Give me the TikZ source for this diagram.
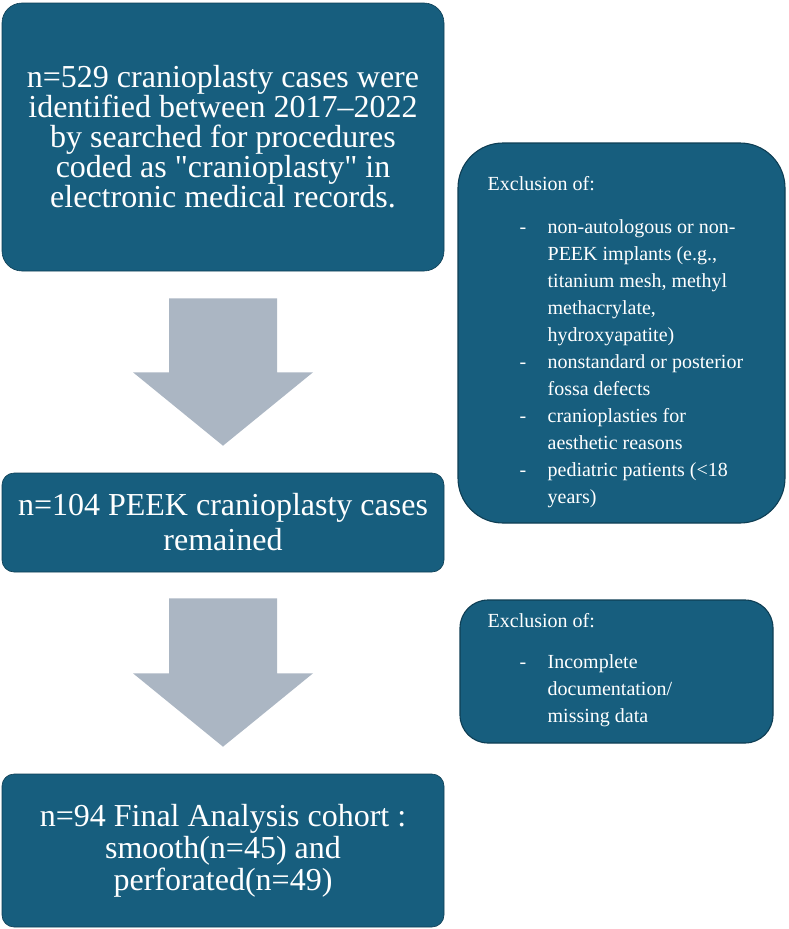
\documentclass[tikz,border=0pt]{standalone}
\usepackage{fontspec}
\setmainfont{Liberation Serif}[Ligatures=TeXOff]
\usetikzlibrary{calc}
\definecolor{flowblue}{RGB}{23,94,126}
\definecolor{flowedge}{RGB}{14,62,84}
\definecolor{flowgray}{RGB}{171,182,195}

\newcommand{\dashitem}{\makebox[60pt][l]{\hspace*{32pt}-}}
\newcommand{\itemcont}{\hspace*{60pt}}

\begin{document}
\begin{tikzpicture}[x=1pt, y=-1pt,
  stage/.style={draw=flowedge, line width=0.6pt, fill=flowblue, text=white, rounded corners=12pt, minimum width=442pt, align=center, inner sep=0pt, font=\fontsize{32}{35}\selectfont},
  exclbox/.style={draw=flowedge, line width=1.1pt, fill=flowblue, inner sep=0pt},
  excltext/.style={text=white, align=left, inner sep=0pt, anchor=north west, font=\fontsize{20}{27}\selectfont},
  bigarrow/.style={fill=flowgray},
]
  \useasboundingbox (0,0) rectangle (788,929);

  % Main flow
  \node[stage, minimum height=268pt, rounded corners=20pt, font=\fontsize{32}{30}\selectfont] (found) at (223,137) {n=529 cranioplasty cases were\\identified between 2017–2022\\by searched for procedures\\coded as "cranioplasty" in\\electronic medical records.};
  \node[stage, minimum height=99pt] (peek) at (223,522.5) {n=104 PEEK cranioplasty cases\\remained};
  \node[stage, minimum height=153pt, font=\fontsize{32}{32}\selectfont] (final) at (223,850.5) {n=94 Final Analysis cohort :\\smooth(n=45) and\\perforated(n=49)};

  % Exclusions
  \node[exclbox, minimum width=327pt, minimum height=380pt, rounded corners=45pt] (exclA) at (621.5,333) {};
  \node[excltext] (exclAtext) at ($(exclA.north west)+(30,34)$) {Exclusion of:\\[16pt]
    \dashitem non-autologous or non-\\
    \itemcont PEEK implants (e.g.,\\
    \itemcont titanium mesh, methyl\\
    \itemcont methacrylate,\\
    \itemcont hydroxyapatite)\\
    \dashitem nonstandard or posterior\\
    \itemcont fossa defects\\
    \dashitem cranioplasties for\\
    \itemcont aesthetic reasons\\
    \dashitem pediatric patients (<18\\
    \itemcont years)};
  \node[exclbox, minimum width=313pt, minimum height=143pt, rounded corners=28pt] (exclB) at (616.5,671.5) {};
  \node[excltext] (exclBtext) at ($(exclB.north west)+(28,14)$) {Exclusion of:\\[14pt]
    \dashitem Incomplete\\
    \itemcont documentation/\\
    \itemcont missing data};

  % Block arrows
  \fill[bigarrow] ($(found.south)+(-54,27)$) -- ($(found.south)+(54,27)$) -- ($(found.south)+(54,101)$) -- ($(found.south)+(90,101)$)
    -- ($(peek.north)+(0,-27)$) -- ($(found.south)+(-90,101)$) -- ($(found.south)+(-54,101)$) -- cycle;
  \fill[bigarrow] ($(peek.south)+(-54,26)$) -- ($(peek.south)+(54,26)$) -- ($(peek.south)+(54,101)$) -- ($(peek.south)+(90,101)$)
    -- ($(final.north)+(0,-27)$) -- ($(peek.south)+(-90,101)$) -- ($(peek.south)+(-54,101)$) -- cycle;
\end{tikzpicture}
\end{document}
